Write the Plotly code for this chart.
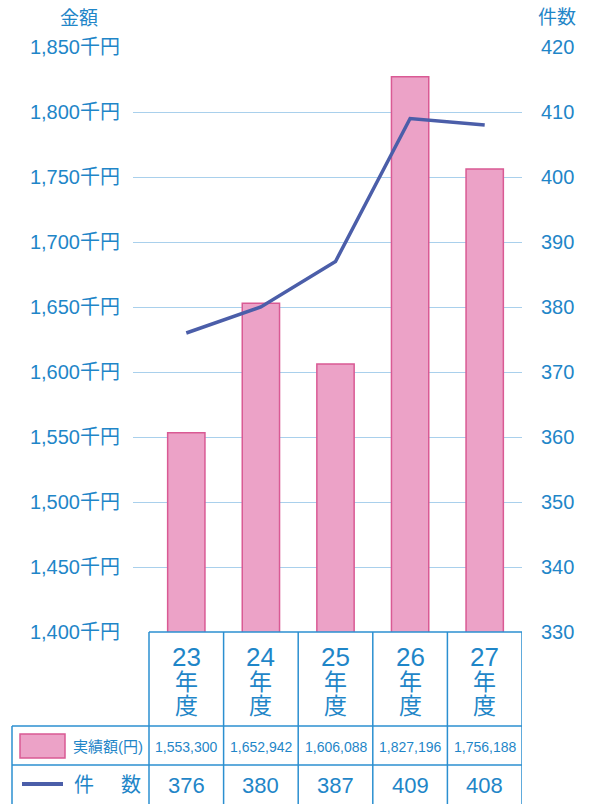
import plotly.graph_objects as go

# ---- data ----
years = ["23", "24", "25", "26", "27"]
amount_yen = [1553300, 1652942, 1606088, 1827196, 1756188]
counts = [376, 380, 387, 409, 408]
amount_k = [v / 1000 for v in amount_yen]
left_ticks = [1400, 1450, 1500, 1550, 1600, 1650, 1700, 1750, 1800, 1850]
right_ticks = [330, 340, 350, 360, 370, 380, 390, 400, 410, 420]

W, H = 590, 804
L, R, T, B = 133, 522, 47, 632  # plot area pixels

BLUE = "#1f86c8"
TBL = "#2b8fd0"
GRID = "#a9d0ec"
PINK = "#eca2c7"
PINK_EDGE = "#d95a94"
LINE = "#4b5ea9"
FONT = "Liberation Sans, Arial, Noto Sans CJK JP"


def py(p):  # pixel y -> paper y
    return (B - p) / (B - T)


def px(p):  # pixel x -> paper x
    return (p - L) / (R - L)


xs = list(range(len(years)))

fig = go.Figure()
fig.add_trace(go.Bar(x=xs, y=amount_k, width=0.5,
                     marker=dict(color=PINK, line=dict(color=PINK_EDGE, width=1.5)),
                     yaxis="y", showlegend=False))
fig.add_trace(go.Scatter(x=xs, y=counts, mode="lines",
                         line=dict(color=LINE, width=3.5), yaxis="y2", showlegend=False))

shapes = []
ann = []


def note(x, y, text, size, xref="paper", family=FONT):
    ann.append(dict(x=x, y=y, xref=xref, yref="paper", text=text, showarrow=False,
                    xanchor="center", yanchor="middle",
                    font=dict(family=family, size=size, color=BLUE)))


# table vertical lines at category boundaries
for i in range(len(years) + 1):
    shapes.append(dict(type="line", xref="x", yref="paper", x0=i - 0.5, x1=i - 0.5,
                       y0=py(632), y1=py(806), line=dict(color=TBL, width=1.5)))
# top of header
shapes.append(dict(type="line", xref="x", yref="paper", x0=-0.5, x1=len(years) - 0.5,
                   y0=py(632), y1=py(632), line=dict(color=TBL, width=1.5)))
# horizontal row lines
for yy in (726, 765):
    shapes.append(dict(type="line", xref="paper", yref="paper", x0=px(12), x1=px(522),
                       y0=py(yy), y1=py(yy), line=dict(color=TBL, width=1.5)))
# left border
shapes.append(dict(type="line", xref="paper", yref="paper", x0=px(12), x1=px(12),
                   y0=py(726), y1=py(806), line=dict(color=TBL, width=1.5)))
# legend swatches
shapes.append(dict(type="rect", xref="paper", yref="paper", x0=px(20), x1=px(65),
                   y0=py(758), y1=py(734), fillcolor=PINK,
                   line=dict(color=PINK_EDGE, width=1.5)))
shapes.append(dict(type="line", xref="paper", yref="paper", x0=px(22), x1=px(63),
                   y0=py(784), y1=py(784), line=dict(color=LINE, width=4)))

for i, yr in enumerate(years):
    label = (f"<span style='font-size:26px'>{yr}</span><br>"
             "<span style='font-size:23px'>年</span><br>"
             "<span style='font-size:23px'>度</span>")
    note(i, py(680), label, 18.5, xref="x")
    note(i, py(747), f"{amount_yen[i]:,}", 14, xref="x")
    note(i, py(785), str(counts[i]), 22, xref="x")

note(px(108), py(746), "実績額(円)", 15)
note(px(84), py(785), "件", 20)
note(px(131), py(785), "数", 20)
note(px(79), py(19), "金額", 19)
note(px(557), py(18), "件数", 19)

fig.update_layout(
    width=W, height=H,
    margin=dict(l=L, r=W - R, t=T, b=H - B, pad=0, autoexpand=False),
    paper_bgcolor="white", plot_bgcolor="white",
    xaxis=dict(range=[-0.5 - 16 / 74.6, len(years) - 0.5], showticklabels=False,
               showgrid=False, zeroline=False, showline=False, ticks=""),
    yaxis=dict(range=[1400, 1850], tickvals=left_ticks,
               ticktext=[f"{v:,}千円" for v in left_ticks],
               showgrid=True, gridcolor=GRID, gridwidth=1, zeroline=False,
               showline=False, ticks="", ticklabelstandoff=12,
               tickfont=dict(family=FONT, size=20, color=BLUE)),
    yaxis2=dict(range=[330, 420], tickvals=right_ticks, overlaying="y", side="right",
                showgrid=False, zeroline=False, showline=False, ticks="",
                ticklabelstandoff=18,
                tickfont=dict(family=FONT, size=20, color=BLUE)),
    shapes=shapes, annotations=ann, showlegend=False,
)

fig.write_html("out.html", config={"displayModeBar": False},
               post_script="document.body.style.margin='0';")
